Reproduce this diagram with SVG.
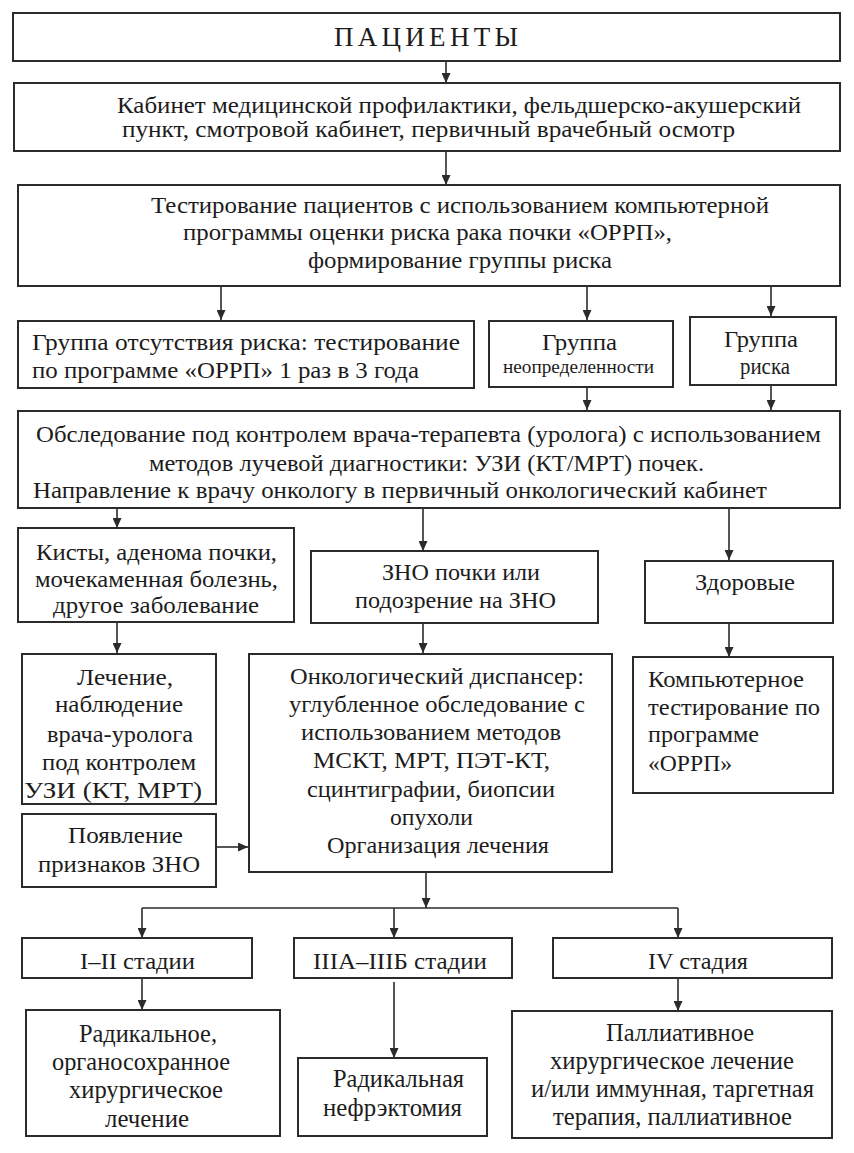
<svg xmlns="http://www.w3.org/2000/svg" width="854" height="1153" viewBox="0 0 854 1153">
<style>
.b{fill:#fff;stroke:#2b2b2b;stroke-width:2}
.t{font-family:"Liberation Serif","Times New Roman",serif;font-size:24px;fill:#1c1c1c}
.s{font-size:19px}
.l{font-size:26px}
.m{font-size:23px}
.c line{stroke:#2b2b2b;stroke-width:1.6;fill:none}
.c .a{marker-end:url(#ah)}
</style>
<defs>
<marker id="ah" markerUnits="userSpaceOnUse" markerWidth="10" markerHeight="9" refX="10" refY="4.5" orient="auto">
<path d="M0,0 L10,4.5 L0,9 z" fill="#2b2b2b"/>
</marker>
</defs>
<rect width="854" height="1153" fill="#fff"/>
<g id="connectors" class="c">
<line class="a" x1="446" y1="61" x2="446" y2="83"/>
<line class="a" x1="446" y1="151" x2="446" y2="185"/>
<line class="a" x1="221" y1="286" x2="221" y2="320"/>
<line class="a" x1="587" y1="286" x2="587" y2="320"/>
<line class="a" x1="771" y1="286" x2="771" y2="316"/>
<line class="a" x1="587" y1="387" x2="587" y2="410"/>
<line class="a" x1="771" y1="385" x2="771" y2="410"/>
<line class="a" x1="117" y1="508" x2="117" y2="528"/>
<line class="a" x1="423" y1="508" x2="423" y2="551"/>
<line class="a" x1="729" y1="508" x2="729" y2="560"/>
<line class="a" x1="117" y1="622" x2="117" y2="653"/>
<line class="a" x1="423" y1="623" x2="423" y2="653"/>
<line class="a" x1="729" y1="623" x2="729" y2="657"/>
<line class="a" x1="216" y1="847" x2="248" y2="847"/>
<line class="a" x1="426" y1="872" x2="426" y2="908"/>
<line x1="142" y1="908" x2="678" y2="908"/>
<line class="a" x1="142" y1="908" x2="142" y2="938"/>
<line class="a" x1="394" y1="908" x2="394" y2="938"/>
<line class="a" x1="678" y1="908" x2="678" y2="938"/>
<line class="a" x1="142" y1="978" x2="142" y2="1010"/>
<line class="a" x1="394" y1="982" x2="394" y2="1058"/>
<line class="a" x1="678" y1="978" x2="678" y2="1011"/>
</g>
<g id="patients">
<rect class="b" x="13" y="13" width="827" height="48"/>
<text class="t" style="font-size:27px" x="334" y="46" textLength="184" lengthAdjust="spacing">ПАЦИЕНТЫ</text>
</g>
<g id="cabinet">
<rect class="b" x="14" y="83" width="826" height="68"/>
<text class="t" x="117" y="113" textLength="684" lengthAdjust="spacingAndGlyphs">Кабинет медицинской профилактики, фельдшерско-акушерский</text>
<text class="t" x="122" y="137" textLength="613" lengthAdjust="spacingAndGlyphs">пункт, смотровой кабинет, первичный врачебный осмотр</text>
</g>
<g id="testing">
<rect class="b" x="18" y="185" width="822" height="101"/>
<text class="t" x="151" y="213" textLength="618" lengthAdjust="spacingAndGlyphs">Тестирование пациентов с использованием компьютерной</text>
<text class="t" x="183" y="240" textLength="489" lengthAdjust="spacingAndGlyphs">программы оценки риска рака почки «ОРРП»,</text>
<text class="t" x="308" y="268" textLength="304" lengthAdjust="spacingAndGlyphs">формирование группы риска</text>
</g>
<g id="no-risk">
<rect class="b" x="18" y="321" width="456" height="67"/>
<text class="t" x="32" y="350" textLength="428" lengthAdjust="spacingAndGlyphs">Группа отсутствия риска: тестирование</text>
<text class="t" x="32" y="378" textLength="387" lengthAdjust="spacingAndGlyphs">по программе «ОРРП» 1 раз в 3 года</text>
</g>
<g id="uncertain">
<rect class="b" x="489" y="321" width="184" height="66"/>
<text class="t" x="542" y="350" textLength="75" lengthAdjust="spacingAndGlyphs">Группа</text>
<text class="t s" x="503" y="373" textLength="151" lengthAdjust="spacingAndGlyphs">неопределенности</text>
</g>
<g id="risk">
<rect class="b" x="690" y="317" width="146" height="68"/>
<text class="t" x="724" y="347" textLength="74" lengthAdjust="spacingAndGlyphs">Группа</text>
<text class="t" x="740" y="374" textLength="50" lengthAdjust="spacingAndGlyphs">риска</text>
</g>
<g id="exam">
<rect class="b" x="18" y="411" width="822" height="97"/>
<text class="t" x="36" y="442" textLength="785" lengthAdjust="spacingAndGlyphs">Обследование под контролем врача-терапевта (уролога) с использованием</text>
<text class="t" x="149" y="471" textLength="555" lengthAdjust="spacingAndGlyphs">методов лучевой диагностики: УЗИ (КТ/МРТ) почек.</text>
<text class="t" x="33" y="498" textLength="734" lengthAdjust="spacingAndGlyphs">Направление к врачу онкологу в первичный онкологический кабинет</text>
</g>
<g id="cysts">
<rect class="b" x="18" y="528" width="276" height="94"/>
<text class="t" x="36" y="560" textLength="241" lengthAdjust="spacingAndGlyphs">Кисты, аденома почки,</text>
<text class="t" x="35" y="587" textLength="243" lengthAdjust="spacingAndGlyphs">мочекаменная болезнь,</text>
<text class="t" x="53" y="613" textLength="206" lengthAdjust="spacingAndGlyphs">другое заболевание</text>
</g>
<g id="zno">
<rect class="b" x="311" y="551" width="287" height="72"/>
<text class="t" x="382" y="580" textLength="158" lengthAdjust="spacingAndGlyphs">ЗНО почки или</text>
<text class="t" x="355" y="608" textLength="201" lengthAdjust="spacingAndGlyphs">подозрение на ЗНО</text>
</g>
<g id="healthy">
<rect class="b" x="645" y="561" width="188" height="62"/>
<text class="t" x="695" y="590" textLength="100" lengthAdjust="spacingAndGlyphs">Здоровые</text>
</g>
<g id="treatment">
<rect class="b" x="22" y="654" width="194" height="150"/>
<text class="t" x="77" y="685" textLength="96" lengthAdjust="spacingAndGlyphs">Лечение,</text>
<text class="t" x="55" y="712" textLength="128" lengthAdjust="spacingAndGlyphs">наблюдение</text>
<text class="t" x="47" y="742" textLength="146" lengthAdjust="spacingAndGlyphs">врача-уролога</text>
<text class="t" x="42" y="770" textLength="154" lengthAdjust="spacingAndGlyphs">под контролем</text>
<text class="t" x="24" y="798" textLength="178" lengthAdjust="spacingAndGlyphs">УЗИ (КТ, МРТ)</text>
</g>
<g id="oncology">
<rect class="b" x="249" y="654" width="363" height="218"/>
<text class="t" x="290" y="684" textLength="294" lengthAdjust="spacingAndGlyphs">Онкологический диспансер:</text>
<text class="t" x="289" y="712" textLength="296" lengthAdjust="spacingAndGlyphs">углубленное обследование с</text>
<text class="t" x="301" y="740" textLength="260" lengthAdjust="spacingAndGlyphs">использованием методов</text>
<text class="t" x="313" y="768" textLength="237" lengthAdjust="spacingAndGlyphs">МСКТ, МРТ, ПЭТ-КТ,</text>
<text class="t" x="307" y="797" textLength="248" lengthAdjust="spacingAndGlyphs">сцинтиграфии, биопсии</text>
<text class="t" x="390" y="825" textLength="83" lengthAdjust="spacingAndGlyphs">опухоли</text>
<text class="t" x="327" y="853" textLength="222" lengthAdjust="spacingAndGlyphs">Организация лечения</text>
</g>
<g id="computer">
<rect class="b" x="633" y="657" width="200" height="136"/>
<text class="t" x="648" y="687" textLength="156" lengthAdjust="spacingAndGlyphs">Компьютерное</text>
<text class="t" x="648" y="715" textLength="172" lengthAdjust="spacingAndGlyphs">тестирование по</text>
<text class="t" x="648" y="742" textLength="111" lengthAdjust="spacingAndGlyphs">программе</text>
<text class="t" x="648" y="771" textLength="84" lengthAdjust="spacingAndGlyphs">«ОРРП»</text>
</g>
<g id="signs">
<rect class="b" x="22" y="814" width="194" height="73"/>
<text class="t" x="68" y="843" textLength="115" lengthAdjust="spacingAndGlyphs">Появление</text>
<text class="t" x="38" y="872" textLength="162" lengthAdjust="spacingAndGlyphs">признаков ЗНО</text>
</g>
<g id="stage12">
<rect class="b" x="22" y="938" width="230" height="40"/>
<text class="t m" x="80" y="969" textLength="115" lengthAdjust="spacingAndGlyphs">I–II стадии</text>
</g>
<g id="stage3">
<rect class="b" x="294" y="938" width="218" height="40"/>
<text class="t m" x="313" y="969" textLength="174" lengthAdjust="spacingAndGlyphs">IIIA–IIIБ стадии</text>
</g>
<g id="stage4">
<rect class="b" x="553" y="938" width="279" height="40"/>
<text class="t m" x="648" y="969" textLength="100" lengthAdjust="spacingAndGlyphs">IV стадия</text>
</g>
<g id="radical-organ">
<rect class="b" x="26" y="1010" width="254" height="126"/>
<text class="t l" x="79" y="1042" textLength="138" lengthAdjust="spacingAndGlyphs">Радикальное,</text>
<text class="t l" x="52" y="1070" textLength="178" lengthAdjust="spacingAndGlyphs">органосохранное</text>
<text class="t l" x="69" y="1098" textLength="154" lengthAdjust="spacingAndGlyphs">хирургическое</text>
<text class="t l" x="105" y="1127" textLength="84" lengthAdjust="spacingAndGlyphs">лечение</text>
</g>
<g id="nephrectomy">
<rect class="b" x="298" y="1058" width="189" height="78"/>
<text class="t l" x="333" y="1087" textLength="131" lengthAdjust="spacingAndGlyphs">Радикальная</text>
<text class="t l" x="323" y="1116" textLength="139" lengthAdjust="spacingAndGlyphs">нефрэктомия</text>
</g>
<g id="palliative">
<rect class="b" x="512" y="1011" width="320" height="127"/>
<text class="t l" x="606" y="1041" textLength="148" lengthAdjust="spacingAndGlyphs">Паллиативное</text>
<text class="t l" x="550" y="1069" textLength="244" lengthAdjust="spacingAndGlyphs">хирургическое лечение</text>
<text class="t l" x="531" y="1097" textLength="283" lengthAdjust="spacingAndGlyphs">и/или иммунная, таргетная</text>
<text class="t l" x="553" y="1125" textLength="239" lengthAdjust="spacingAndGlyphs">терапия, паллиативное</text>
</g>
</svg>
